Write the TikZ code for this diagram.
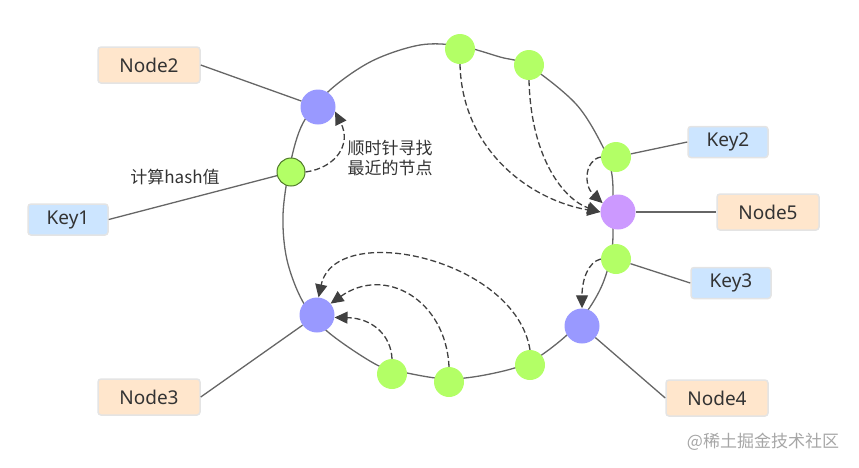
\documentclass[tikz,border=0pt]{standalone}
\usepackage{fontspec}
\setmainfont{Noto Sans}
\newfontfamily\cjk{Noto Sans CJK SC}
\usetikzlibrary{arrows.meta}
\definecolor{nblue}{HTML}{9999FF}
\definecolor{npurple}{HTML}{CC99FF}
\definecolor{kgreen}{HTML}{B3FF66}
\definecolor{kborder}{HTML}{4F7A28}
\definecolor{peach}{HTML}{FFE6CC}
\definecolor{lblue}{HTML}{CCE5FF}
\definecolor{boxline}{HTML}{E4E4E4}
\definecolor{ringc}{HTML}{666666}
\definecolor{arrowc}{HTML}{404040}
\definecolor{txt}{HTML}{333333}
\begin{document}
\begin{tikzpicture}[x=1pt,y=-1pt,
  ring/.style={draw=ringc,line width=1.3pt},
  link/.style={draw=ringc,line width=1.3pt},
  hop/.style={draw=arrowc,line width=1.3pt,dash pattern=on 6pt off 3pt,-{Triangle[length=13pt,width=12pt]}},
  srv/.style={circle,fill=nblue,minimum size=35pt,inner sep=0pt},
  key/.style={circle,fill=kgreen,minimum size=30pt,inner sep=0pt},
  box/.style={rounded corners=3pt,draw=boxline,line width=1.5pt,text=txt,font=\fontsize{19}{22}\selectfont,inner sep=0pt,minimum height=36pt},
  nbox/.style={box,fill=peach,minimum width=102pt},
  kbox/.style={box,fill=lblue,minimum width=80pt,minimum height=31pt},
  note/.style={text=txt,font=\cjk\fontsize{17}{20}\selectfont,align=center}
]
\useasboundingbox (0,0) rectangle (859,467);

% ring
\draw[ring] plot[smooth cycle, tension=0.55] coordinates {
  (420,45) (460,46) (500,57) (529,66) (576,104) (603,147) (612,175) (613,212)
  (612,250) (603,283) (588,310) (567,335) (530,362) (490,374) (448,379)
  (407,373) (377,365) (328,332) (303,302) (287,260) (283,215) (290,165)
  (303,123) (330,90) (372,61)};

% boxes
\node[nbox] (b2) at (149,65) {Node2};
\node[kbox] (bk1) at (68,219.5) {Key1};
\node[nbox] (b3) at (149,397) {Node3};
\node[kbox] (bk2) at (728,142) {Key2};
\node[nbox] (b5) at (768,212) {Node5};
\node[kbox] (bk3) at (731,283) {Key3};
\node[nbox] (b4) at (717,398) {Node4};

% circles
\node[srv] (n2) at (318,107) {};
\node[key,draw=kborder,line width=1pt,minimum size=28pt] (k1) at (291,172) {};
\node[key] (t1) at (460,49) {};
\node[key] (t2) at (529,65) {};
\node[key] (k2) at (616,157) {};
\node[srv,fill=npurple] (n5) at (618,212) {};
\node[key] (k3) at (616,259) {};
\node[srv] (n4) at (582,326) {};
\node[key] (br) at (530,365) {};
\node[key] (bm) at (449,382) {};
\node[key] (bl) at (392,374) {};
\node[srv] (n3) at (317,315) {};

% links
\draw[link] (b2.east) -- (n2);
\draw[link] (bk1.east) -- (k1);
\draw[link] (b3.east) -- (n3);
\draw[link] (k2) -- (bk2.west);
\draw[link] (n5) -- (b5.west);
\draw[link] (k3) -- (bk3.west);
\draw[link] (n4) -- (b4.west);

% dashed hops
\draw[hop] (k1.east) .. controls (335,168) and (352,145) .. (n2.-15);
\draw[hop] (t1.south) .. controls (462,150) and (530,200) .. (n5.west);
\draw[hop] (t2.south) .. controls (531,160) and (565,200) .. (n5.west);
\draw[hop] (k2.west) .. controls (585,160) and (583,185) .. (n5.150);
\draw[hop] (k3.west) .. controls (588,262) and (582,280) .. (n4.north);
\draw[hop] (bl.north) .. controls (391,335) and (372,318) .. (n3.-8);
\draw[hop] (bm.north) .. controls (446,300) and (385,265) .. (n3.40);
\draw[hop] (br.north) .. controls (515,258) and (335,220) .. (n3.85);

% labels
\node[note] (calc) at (175,177) {计算hash值};
\node[note] (seek) at (390,158) {顺时针寻找\\最近的节点};
\node[text=gray!70,font=\cjk\fontsize{17}{20}\selectfont] (wm) at (763,442) {@稀土掘金技术社区};
\end{tikzpicture}
\end{document}
